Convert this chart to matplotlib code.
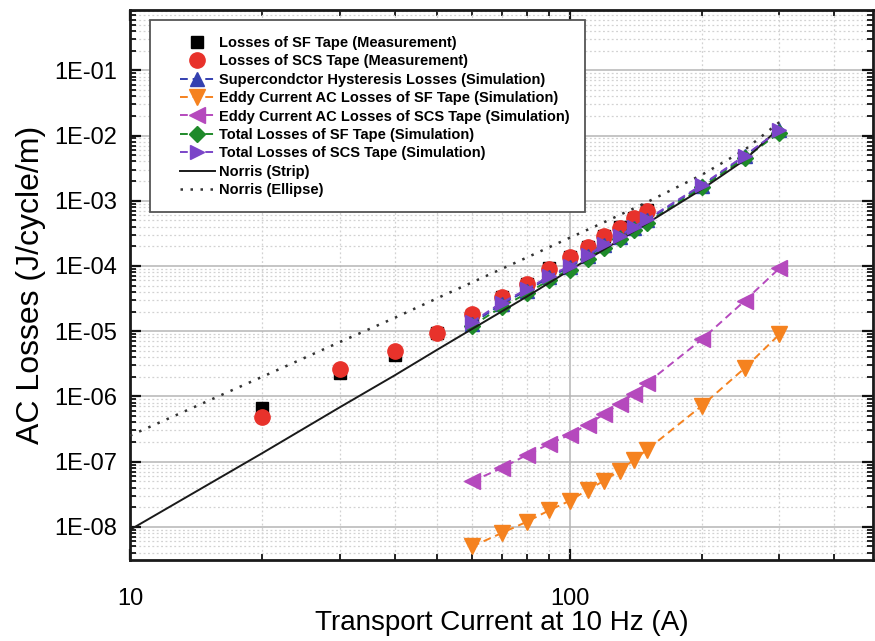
import matplotlib
matplotlib.use("Agg")
import matplotlib.pyplot as plt
from matplotlib.ticker import LogLocator, FixedLocator, FixedFormatter, NullFormatter
from matplotlib.patches import Rectangle

plt.rcParams['font.family'] = ['Liberation Sans', 'DejaVu Sans']

# ---- measured AC losses (J/cycle/m) ----
meas_current = [20, 30, 40, 50, 60, 70, 80, 90, 100, 110, 120, 130, 140, 150]
meas_sf = [6.6e-7, 2.25e-6, 4.3e-6, 9.5e-6, 1.8e-5, 3.3e-5, 5.3e-5, 9.2e-5,
           1.38e-4, 1.97e-4, 2.9e-4, 3.9e-4, 5.5e-4, 7.1e-4]
meas_scs = [4.9e-7, 2.6e-6, 4.9e-6, 9.4e-6, 1.86e-5, 3.33e-5, 5.2e-5, 9.1e-5,
            1.35e-4, 1.92e-4, 2.83e-4, 3.8e-4, 5.4e-4, 7.0e-4]

# ---- simulated losses ----
sim_current = [60, 70, 80, 90, 100, 110, 120, 130, 140, 150, 200, 250, 300]
sim_hyst = [1.3e-5, 2.6e-5, 4.2e-5, 6.7e-5, 9.6e-5, 1.4e-4, 2.07e-4, 2.8e-4,
            3.85e-4, 5.0e-4, 1.7e-3, 4.8e-3, 1.2e-2]
sim_eddy_sf = [5.0e-9, 8.0e-9, 1.2e-8, 1.8e-8, 2.5e-8, 3.7e-8, 5.1e-8, 7.3e-8,
               1.06e-7, 1.52e-7, 7.2e-7, 2.7e-6, 8.9e-6]
sim_eddy_scs = [5.0e-8, 7.9e-8, 1.27e-7, 1.87e-7, 2.57e-7, 3.7e-7, 5.4e-7, 7.7e-7,
                1.1e-6, 1.6e-6, 7.5e-6, 2.9e-5, 9.2e-5]
sim_total_sf = [1.2e-5, 2.35e-5, 3.8e-5, 6.1e-5, 8.8e-5, 1.28e-4, 1.9e-4, 2.55e-4,
                3.5e-4, 4.6e-4, 1.6e-3, 4.5e-3, 1.1e-2]
sim_total_scs = [1.38e-5, 2.73e-5, 4.4e-5, 7.0e-5, 1.0e-4, 1.46e-4, 2.16e-4, 2.9e-4,
                 4.0e-4, 5.2e-4, 1.75e-3, 4.9e-3, 1.2e-2]

# ---- Norris analytical curves ----
norris_current = [10, 20, 30, 40, 50, 60, 80, 100, 120, 150, 200, 250, 300]
norris_strip = [9.0e-9, 1.35e-7, 6.8e-7, 2.1e-6, 5.2e-6, 1.08e-5, 3.4e-5, 8.6e-5,
                1.8e-4, 4.5e-4, 1.5e-3, 4.2e-3, 1.3e-2]
norris_ellipse = [2.5e-7, 2.0e-6, 6.8e-6, 1.6e-5, 3.2e-5, 5.6e-5, 1.35e-4, 2.7e-4,
                  4.7e-4, 9.5e-4, 2.5e-3, 6.0e-3, 1.6e-2]

y_ticks = [1e-8, 1e-7, 1e-6, 1e-5, 1e-4, 1e-3, 1e-2, 1e-1]
y_tick_labels = ['1E-08', '1E-07', '1E-06', '1E-05', '1E-04', '1E-03', '1E-02', '1E-01']
x_ticks = [10, 100]
x_tick_labels = ['10', '100']

fig = plt.figure(figsize=(8.75, 6.41), dpi=100)
ax = fig.add_axes([130 / 875, 1 - 560 / 641, 743 / 875, 550 / 641])
ax.set_xscale('log')
ax.set_yscale('log')

ms = 10
dash = (0, (4, 2.5))
ax.plot(meas_current, meas_sf, ls='none', marker='s', ms=ms - 1, color='black',
        label='Losses of SF Tape (Measurement)', zorder=3)
ax.plot(meas_current, meas_scs, ls='none', marker='o', ms=ms + 1, color='#e8322b',
        label='Losses of SCS Tape (Measurement)', zorder=3)
ax.plot(sim_current, sim_hyst, ls=dash, lw=1.4, marker='^', ms=ms, color='#3440b0',
        label='Supercondctor Hysteresis Losses (Simulation)', zorder=4)
ax.plot(sim_current, sim_eddy_sf, ls=dash, lw=1.4, marker='v', ms=ms + 1, color='#f5821f',
        label='Eddy Current AC Losses of SF Tape (Simulation)', zorder=4)
ax.plot(sim_current, sim_eddy_scs, ls=dash, lw=1.4, marker='<', ms=ms + 1, color='#b549bd',
        label='Eddy Current AC Losses of SCS Tape (Simulation)', zorder=4)
ax.plot(sim_current, sim_total_sf, ls=dash, lw=1.4, marker='D', ms=ms - 2, color='#1f8a2a',
        label='Total Losses of SF Tape (Simulation)', zorder=4)
ax.plot(sim_current, sim_total_scs, ls=dash, lw=1.4, marker='>', ms=ms, color='#7b45c8',
        label='Total Losses of SCS Tape (Simulation)', zorder=5)
ax.plot(norris_current, norris_strip, ls='-', lw=1.4, color='#1a1a1a',
        label='Norris (Strip)', zorder=4)
ax.plot(norris_current, norris_ellipse, ls=(0, (1, 3)), lw=1.8, color='#333333',
        label='Norris (Ellipse)', zorder=4)

ax.set_xlim(10, 490)
ax.set_ylim(3.1e-9, 0.84)

ax.xaxis.set_major_locator(FixedLocator(x_ticks))
ax.xaxis.set_major_formatter(FixedFormatter(x_tick_labels))
ax.xaxis.set_minor_locator(LogLocator(base=10, subs=range(2, 10), numticks=20))
ax.xaxis.set_minor_formatter(NullFormatter())
ax.yaxis.set_major_locator(FixedLocator(y_ticks))
ax.yaxis.set_major_formatter(FixedFormatter(y_tick_labels))
ax.yaxis.set_minor_locator(LogLocator(base=10, subs=range(2, 10), numticks=20))
ax.yaxis.set_minor_formatter(NullFormatter())

ax.tick_params(which='both', direction='in', top=True, right=True, color='#111111')
ax.tick_params(which='major', length=8, width=1.6, labelsize=17)
ax.tick_params(which='minor', length=4.5, width=1.3)
ax.tick_params(axis='x', which='major', pad=20)
ax.tick_params(axis='y', which='major', pad=9)

ax.grid(which='major', color='#b5b5b5', lw=1.1, ls='-')
ax.grid(which='minor', color='#d2d2d2', lw=0.9, ls=(0, (1.5, 2)))
ax.set_axisbelow(True)

for sp in ax.spines.values():
    sp.set_linewidth(2)
    sp.set_color('#1a1a1a')

ax.set_xlabel('Transport Current at 10 Hz (A)', fontsize=20, labelpad=0)
ax.set_ylabel('AC Losses (J/cycle/m)', fontsize=23, labelpad=6)

# legend box with a wide left margin
ax.add_patch(Rectangle((0.027, 0.633), 0.585, 0.349, transform=ax.transAxes,
                       facecolor='white', edgecolor='#555555', lw=1.3, zorder=6))
leg = ax.legend(loc='upper left', bbox_to_anchor=(0.063, 0.958), frameon=False,
                prop={'weight': 'bold', 'size': 10.5}, handlelength=2.4,
                handletextpad=0.3, labelspacing=0.3, borderpad=0.2,
                borderaxespad=0, markerscale=1.0)
leg.set_zorder(7)

fig.savefig('out.png', dpi=100)
